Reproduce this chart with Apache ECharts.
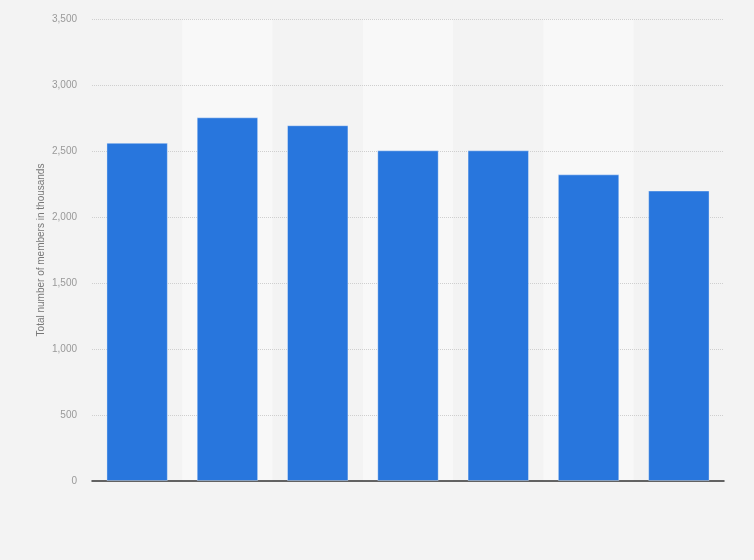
<!DOCTYPE html>
<html>
<head>
<meta charset="utf-8">
<style>
  html, body { margin: 0; padding: 0; background: #f3f3f3; }
  #chart { width: 754px; height: 560px; }
</style>
<script src="https://cdn.jsdelivr.net/npm/echarts@6/dist/echarts.min.js"></script>
</head>
<body>
<div id="chart"></div>
<script>
const categories = ['1', '2', '3', '4', '5', '6', '7'];
const members = [2562, 2755, 2695, 2505, 2505, 2323, 2200];
const yTicks = { min: 0, max: 3500, interval: 500 };
const yAxisTitle = 'Total number of members in thousands';

const chart = echarts.init(document.getElementById('chart'), null, { renderer: 'canvas' });
chart.setOption({
  backgroundColor: '#f3f3f3',
  animation: false,
  grid: { left: 92, right: 30, top: 19, bottom: 79, containLabel: false },
  xAxis: {
    type: 'category',
    data: categories,
    boundaryGap: true,
    z: 0,
    axisLine: { show: true, lineStyle: { color: '#333', width: 1.5 } },
    axisTick: { show: false },
    axisLabel: { show: false },
    splitLine: { show: false },
    splitArea: { show: true, areaStyle: { color: ['#f3f3f3', '#f8f8f8'] } }
  },
  yAxis: {
    type: 'value',
    z: 1,
    min: yTicks.min,
    max: yTicks.max,
    interval: yTicks.interval,
    name: yAxisTitle,
    nameLocation: 'middle',
    nameGap: 46,
    nameMoveOverlap: false,
    nameTextStyle: { color: '#777', fontSize: 10, fontFamily: 'Liberation Sans, Arial, sans-serif' },
    axisLine: { show: false },
    axisTick: { show: false },
    axisLabel: {
      color: '#999',
      fontSize: 10,
      margin: 15,
      fontFamily: 'Liberation Sans, Arial, sans-serif',
      formatter: v => v.toLocaleString('en-US')
    },
    splitLine: { show: true, showMinLine: false, lineStyle: { color: '#cfcfcf', type: [1, 1], width: 1 } }
  },
  series: [{
    type: 'bar',
    z: 2,
    data: members,
    barCategoryGap: '32%',
    itemStyle: { color: '#2876dd', borderColor: 'rgba(255,255,255,0.35)', borderWidth: 1 },
    silent: true
  }]
});
</script>
</body>
</html>
